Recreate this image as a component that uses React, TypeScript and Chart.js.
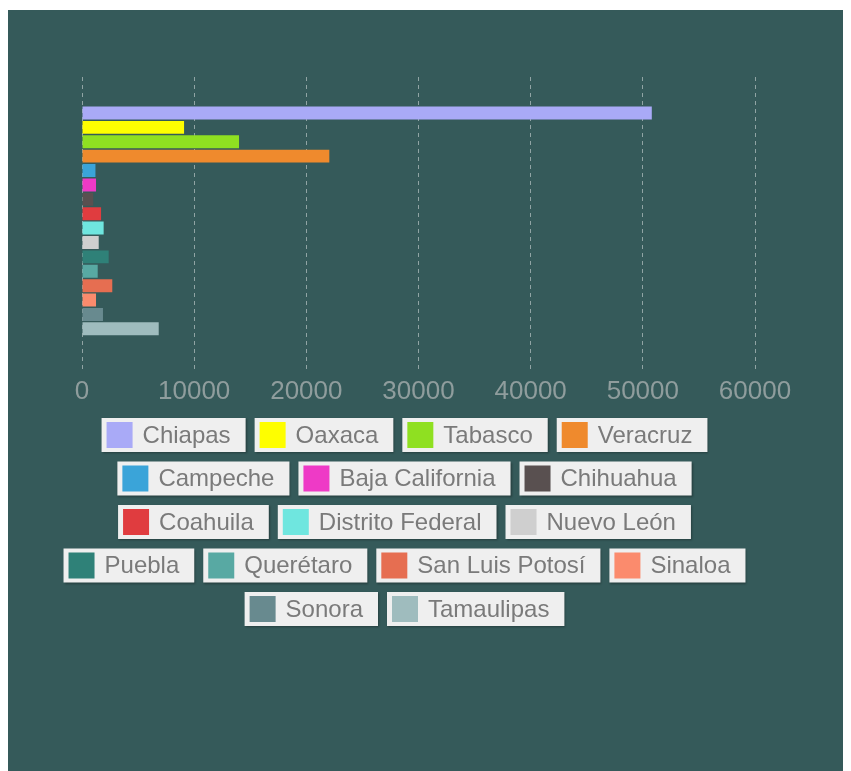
import React, { useEffect, useRef } from "react";
import { Chart, registerables } from "chart.js";

Chart.register(...registerables);

const STATES = [
  "Chiapas", "Oaxaca", "Tabasco", "Veracruz",
  "Campeche", "Baja California", "Chihuahua",
  "Coahuila", "Distrito Federal", "Nuevo León",
  "Puebla", "Querétaro", "San Luis Potosí", "Sinaloa",
  "Sonora", "Tamaulipas",
];

const VALUES = [
  50800, 9100, 14000, 22050,
  1200, 1250, 1000,
  1700, 1930, 1490,
  2380, 1400, 2700, 1250,
  1870, 6840,
];

const COLORS = [
  "#a9aaf7", "#fefe00", "#8fe021", "#ef8a2d",
  "#3aa4d9", "#ee3ac6", "#595050",
  "#e03c3f", "#6fe6df", "#cfcfcf",
  "#2f8178", "#58a9a3", "#e66e51", "#fb8b6d",
  "#688a8f", "#9fbcbe",
];

const CATEGORIES = [""];
const X_MIN = 0;
const X_MAX = 60000;
const X_STEP = 10000;

const LEGEND_FONT = '24px "Liberation Sans", Arial, sans-serif';

const boxLegend = {
  id: "boxLegend",
  afterDraw(chart: any) {
    const ctx = chart.ctx as CanvasRenderingContext2D;
    const padL = 5, sq = 26, gapSq = 10, padR = 15, boxH = 34, itemGap = 9;
    const rowH = 43.5, maxW = 700, centerX = 396.5, top = 408;
    ctx.save();
    ctx.font = LEGEND_FONT;
    const items = chart.data.datasets.map((d: any) => {
      const tw = ctx.measureText(d.label).width;
      return { label: d.label, color: d.backgroundColor, w: padL + sq + gapSq + tw + padR };
    });
    const rows: any[][] = [];
    let cur: any[] = [];
    let curW = 0;
    for (const it of items) {
      const add = cur.length ? itemGap + it.w : it.w;
      if (cur.length && curW + add > maxW) {
        rows.push(cur);
        cur = [it];
        curW = it.w;
      } else {
        cur.push(it);
        curW += add;
      }
    }
    if (cur.length) rows.push(cur);
    rows.forEach((row, r) => {
      const total = row.reduce((s, it) => s + it.w, 0) + itemGap * (row.length - 1);
      let x = centerX - total / 2;
      const y = top + r * rowH;
      for (const it of row) {
        ctx.save();
        ctx.shadowColor = "rgba(0,0,0,0.3)";
        ctx.shadowBlur = 2;
        ctx.shadowOffsetX = 1;
        ctx.shadowOffsetY = 1;
        ctx.fillStyle = "#efefef";
        ctx.fillRect(x, y, it.w, boxH);
        ctx.restore();
        ctx.fillStyle = it.color;
        ctx.fillRect(x + padL, y + (boxH - sq) / 2, sq, sq);
        ctx.fillStyle = "#7a7a7a";
        ctx.textBaseline = "middle";
        ctx.textAlign = "left";
        ctx.fillText(it.label, x + padL + sq + gapSq, y + boxH / 2 + 1);
        x += it.w + itemGap;
      }
    });
    ctx.restore();
  },
};

export default function App() {
  const ref = useRef<HTMLCanvasElement | null>(null);
  useEffect(() => {
    if (!ref.current) return;
    const chart = new Chart(ref.current, {
      type: "bar",
      data: {
        labels: CATEGORIES,
        datasets: STATES.map((s, i) => ({
          label: s,
          data: [VALUES[i]],
          backgroundColor: COLORS[i],
          borderWidth: 0,
        })),
      },
      options: {
        indexAxis: "y",
        animation: false,
        responsive: true,
        maintainAspectRatio: false,
        layout: { padding: { top: 67, left: 74, right: 96, bottom: 361 } },
        plugins: {
          legend: { display: false },
          tooltip: { enabled: false },
          title: { display: false },
        },
        scales: {
          x: {
            min: X_MIN,
            max: X_MAX,
            border: { display: false, dash: [4, 4] },
            grid: {
              color: "rgba(255,255,255,0.45)",
              lineWidth: 1,
              tickLength: 8,
              tickColor: "rgba(255,255,255,0.45)",
              tickBorderDash: [4, 4],
            },
            ticks: {
              stepSize: X_STEP,
              color: "#8f9d9d",
              padding: 3,
              maxRotation: 0,
              callback: (v: any) => String(v),
              font: { family: '"Liberation Sans", Arial, sans-serif', size: 26 },
            },
          },
          y: { display: false },
        },
      } as any,
      plugins: [boxLegend],
    });
    return () => chart.destroy();
  }, []);
  return (
    <div style={{ position: "relative", width: 843, height: 761, marginTop: 2, background: "#355a5a" }}>
      <canvas ref={ref} />
    </div>
  );
}
